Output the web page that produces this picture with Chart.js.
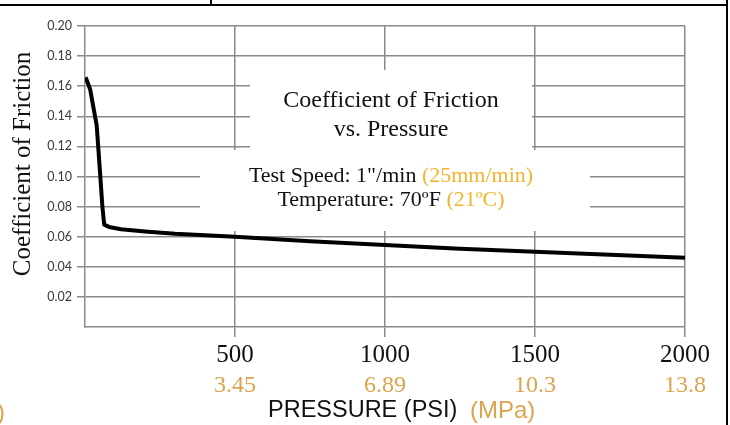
<!DOCTYPE html>
<html>
<head>
<meta charset="utf-8">
<script src="https://cdn.jsdelivr.net/npm/chart.js@4.4.0/dist/chart.umd.min.js"></script>
<style>
  html, body { margin: 0; padding: 0; background: #fff; }
  #wrap { width: 730px; height: 425px; position: relative; }
</style>
</head>
<body>
<div id="wrap"><canvas id="grafico"></canvas></div>
<script>
// datos
const presion = [2, 17, 39, 50, 58, 64, 80, 120, 200, 300, 500, 750, 1000, 1250, 1500, 1750, 2000];
const friccion = [0.166, 0.158, 0.134, 0.103, 0.080, 0.068, 0.0665, 0.065, 0.0635, 0.062, 0.060, 0.057, 0.0545, 0.052, 0.050, 0.048, 0.046];
const ticksPsi = [0, 500, 1000, 1500, 2000];
const etiquetasPsi = ['', '500', '1000', '1500', '2000'];
const etiquetasMpa = ['', '3.45', '6.89', '10.3', '13.8'];
const ticksCof = [0, 0.02, 0.04, 0.06, 0.08, 0.10, 0.12, 0.14, 0.16, 0.18, 0.20];
const etiquetasCof = ['', '0.02', '0.04', '0.06', '0.08', '0.10', '0.12', '0.14', '0.16', '0.18', '0.20'];

const gris = '#8a8a8a';
const naranja = '#f4b22e';
const naranjaEje = '#dca34c';
const serif = '"Liberation Serif", "Times New Roman", serif';
const sans = '"Liberation Sans", Arial, sans-serif';

const colorGrid = c => (c.tick && c.tick.value === 0) ? 'rgba(0,0,0,0)' : gris;

const cuadros = {
    id: 'cuadros',
    beforeDatasetsDraw(chart) {
        const ctx = chart.ctx;
        ctx.save();
        ctx.fillStyle = '#fff';
        ctx.fillRect(250, 70, 282, 80);
        ctx.fillRect(200, 150, 390, 81);
        ctx.restore();
    }
};

const textos = {
    id: 'textos',
    afterDraw(chart) {
        const ctx = chart.ctx;
        ctx.save();
        ctx.textBaseline = 'middle';
        ctx.textAlign = 'center';
        ctx.fillStyle = '#111';
        ctx.font = '24px ' + serif;
        ctx.fillText('Coefficient of Friction', 391, 101);
        ctx.fillText('vs. Pressure', 391, 130);

        ctx.font = '22px ' + serif;
        const linea = (a, b, y) => {
            const wa = ctx.measureText(a).width, wb = ctx.measureText(b).width;
            const x0 = 391 - (wa + wb) / 2;
            ctx.textAlign = 'left';
            ctx.fillStyle = '#111';
            ctx.fillText(a, x0, y);
            ctx.fillStyle = naranja;
            ctx.fillText(b, x0 + wa, y);
        };
        linea('Test Speed: 1"/min ', '(25mm/min)', 176);
        linea('Temperature: 70ºF ', '(21ºC)', 200);

        // titulo eje y
        ctx.save();
        ctx.translate(23, 164);
        ctx.rotate(-Math.PI / 2);
        ctx.textAlign = 'center';
        ctx.fillStyle = '#111';
        ctx.font = '25px ' + serif;
        ctx.fillText('Coefficient of Friction', 0, 0);
        ctx.restore();

        // titulo eje x
        ctx.font = '23.5px ' + sans;
        ctx.textAlign = 'left';
        ctx.fillStyle = '#111';
        ctx.fillText('PRESSURE (PSI)', 268, 411);
        ctx.fillStyle = naranjaEje;
        ctx.font = '24px ' + sans;
        ctx.fillText('(MPa)', 470, 411);
        ctx.fillText(')', -3, 413);

        // marco
        ctx.fillStyle = '#000';
        ctx.fillRect(0, 4, 728, 2);
        ctx.fillRect(210, 0, 2, 5);
        ctx.fillRect(726, 0, 2, 425);
        ctx.restore();
    }
};

new Chart(document.getElementById('grafico'), {
    type: 'line',
    data: {
        datasets: [
            {
                data: presion.map((p, i) => ({ x: p, y: friccion[i] })),
                borderColor: '#000',
                borderWidth: 4,
                pointRadius: 0,
                tension: 0,
                borderJoinStyle: 'round',
                fill: false
            }
        ]
    },
    options: {
        responsive: true,
        maintainAspectRatio: false,
        animation: false,
        devicePixelRatio: 1,
        layout: { padding: { top: 26, right: 45, bottom: 27, left: 0 } },
        plugins: {
            legend: { display: false },
            tooltip: { enabled: false }
        },
        scales: {
            x: {
                type: 'linear',
                min: 0,
                max: 2000,
                weight: 1,
                afterBuildTicks: s => { s.ticks = ticksPsi.map(v => ({ value: v })); },
                afterFit: s => { s.height = 41; },
                ticks: {
                    autoSkip: false,
                    maxRotation: 0,
                    padding: 6,
                    color: '#111',
                    font: { family: serif, size: 25, lineHeight: 1 },
                    callback: (v) => etiquetasPsi[ticksPsi.indexOf(v)]
                },
                grid: { color: colorGrid, lineWidth: 1.5, tickLength: 10 },
                border: { color: gris, width: 1.5 }
            },
            x2: {
                type: 'linear',
                position: 'bottom',
                min: 0,
                max: 2000,
                weight: 2,
                afterBuildTicks: s => { s.ticks = ticksPsi.map(v => ({ value: v })); },
                afterFit: s => { s.height = 30; },
                ticks: {
                    autoSkip: false,
                    maxRotation: 0,
                    padding: 6,
                    color: naranjaEje,
                    font: { family: serif, size: 24, lineHeight: 1 },
                    callback: (v) => etiquetasMpa[ticksPsi.indexOf(v)]
                },
                grid: { display: false, drawTicks: false },
                border: { display: false }
            },
            y: {
                min: 0,
                max: 0.2,
                afterBuildTicks: s => { s.ticks = ticksCof.map(v => ({ value: v })); },
                afterFit: s => { s.width = 85; },
                ticks: {
                    padding: 5,
                    color: '#3a3a3a',
                    font: { family: 'Lato, "Liberation Sans", sans-serif', size: 12.5 },
                    callback: (v) => etiquetasCof[ticksCof.findIndex(t => Math.abs(t - v) < 1e-9)]
                },
                grid: { color: colorGrid, lineWidth: 1.5, tickLength: 8 },
                border: { color: gris, width: 1.5 }
            }
        }
    },
    plugins: [cuadros, textos]
});
</script>
</body>
</html>
